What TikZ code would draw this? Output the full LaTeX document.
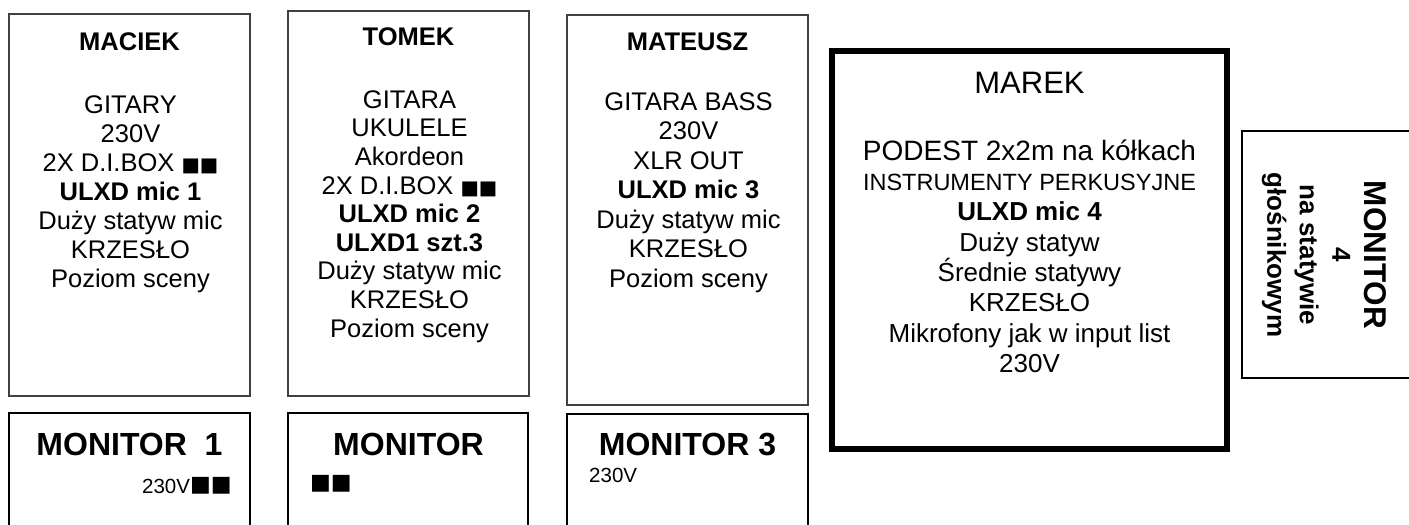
\documentclass[tikz,border=0pt]{standalone}
\usepackage{fontspec}
\setmainfont{Liberation Sans}
\newfontfamily\sqfont{DejaVu Sans}
\newcommand{\firststrut}{\rule{0pt}{20pt}}
\newcommand{\monsq}{\raisebox{1.5pt}{\sqfont\fontsize{22}{22}\selectfont ■■}}
\newcommand{\bodysq}{{\sqfont\fontsize{19.5}{22}\selectfont ■■}}
\begin{document}
\lineskiplimit=-100pt
\begin{tikzpicture}[x=1pt,y=-1pt,
  thinbox/.style={draw=black!75, line width=1.2pt, rectangle, inner sep=0pt, outer sep=0pt},
  monbox/.style={draw=black, line width=2.2pt, rectangle, inner sep=0pt, outer sep=0pt},
  thickbox/.style={draw=black, line width=6pt, rectangle, inner sep=0pt, outer sep=0pt},
  hdr/.style={font=\fontsize{25.5}{29}\selectfont\bfseries, anchor=base, inner sep=0pt},
  bodytxt/.style={font=\fontsize{25.5}{#1}\selectfont, align=center, anchor=north, inner sep=0pt},
  montitle/.style={font=\fontsize{32}{36}\selectfont\bfseries, anchor=base, inner sep=0pt},
  monnote/.style={font=\fontsize{20.5}{22}\selectfont, anchor=base west, inner sep=0pt}
]
\useasboundingbox (0,0) rectangle (1409,525);
\clip (0,0) rectangle (1409,525);

% boxes
\node[thinbox, minimum width=241pt, minimum height=382pt] (maciek) at (129.5,205) {};
\node[thinbox, minimum width=241pt, minimum height=385pt] (tomek) at (408.5,203.5) {};
\node[thinbox, minimum width=241pt, minimum height=390pt] (mateusz) at (687.5,210) {};
\node[thickbox, minimum width=395pt, minimum height=398pt] (marek) at (1029.5,250) {};
\node[monbox, minimum width=241pt, minimum height=147pt] (mon1) at (129.5,486.5) {};
\node[monbox, minimum width=240pt, minimum height=147pt] (mon2) at (408,486.5) {};
\node[monbox, minimum width=241pt, minimum height=146pt] (mon3) at (687.5,487) {};
\node[monbox, minimum width=198pt, minimum height=247pt] (mon4) at (1341,254.5) {};

% MACIEK
\node[hdr] (maciekh) at (129.5,50) {MACIEK};
\node[bodytxt=29] (maciekb) at (130.5,93) {\firststrut GITARY\\230V\\2X D.I.BOX \bodysq\\\textbf{ULXD mic 1}\\Duży statyw mic\\KRZESŁO\\Poziom sceny};

% TOMEK
\node[hdr] (tomekh) at (408.5,45) {TOMEK};
\node[bodytxt=28.6] (tomekb) at (409.5,88) {\firststrut GITARA\\UKULELE\\Akordeon\\2X D.I.BOX \bodysq\\\textbf{ULXD mic 2}\\\textbf{ULXD1 szt.3}\\Duży statyw mic\\KRZESŁO\\Poziom sceny};

% MATEUSZ
\node[hdr] (mateuszh) at (687.5,50) {MATEUSZ};
\node[bodytxt=29.5] (mateuszb) at (688.5,90) {\firststrut GITARA BASS\\230V\\XLR OUT\\\textbf{ULXD mic 3}\\Duży statyw mic\\KRZESŁO\\Poziom sceny};

% MAREK
\node[font=\fontsize{31}{34}\selectfont, anchor=base, inner sep=0pt] (marekh) at (1029.5,93) {MAREK};
\node[font=\fontsize{26}{30.3}\selectfont, align=center, anchor=north, inner sep=0pt] (marekb) at (1029.5,138)
  {{\fontsize{28}{30.3}\selectfont\rule{0pt}{22pt}PODEST 2x2m na kółkach}\\{\fontsize{23.5}{30.3}\selectfont INSTRUMENTY PERKUSYJNE}\\\textbf{ULXD mic 4}\\Duży statyw\\Średnie statywy\\KRZESŁO\\Mikrofony jak w input list\\230V};

% monitors
\node[montitle] (mon1t) at (129.5,455) {MONITOR\ \ 1};
\node[monnote] (mon1n) at (142,493) {230V\monsq};
\node[montitle] (mon2t) at (408.5,455) {MONITOR};
\node[monnote] (mon2n) at (310,491) {\monsq};
\node[montitle] (mon3t) at (687.5,455) {MONITOR 3};
\node[monnote] (mon3n) at (589,482) {230V};

\node[rotate=-90, font=\fontsize{26}{32.5}\selectfont\bfseries, align=center, anchor=north, inner sep=0pt] (mon4t) at (1389,255)
  {{\fontsize{31.5}{32}\selectfont\rule{0pt}{24pt}MONITOR}\\4\\na statywie\\głośnikowym};
\end{tikzpicture}
\end{document}
